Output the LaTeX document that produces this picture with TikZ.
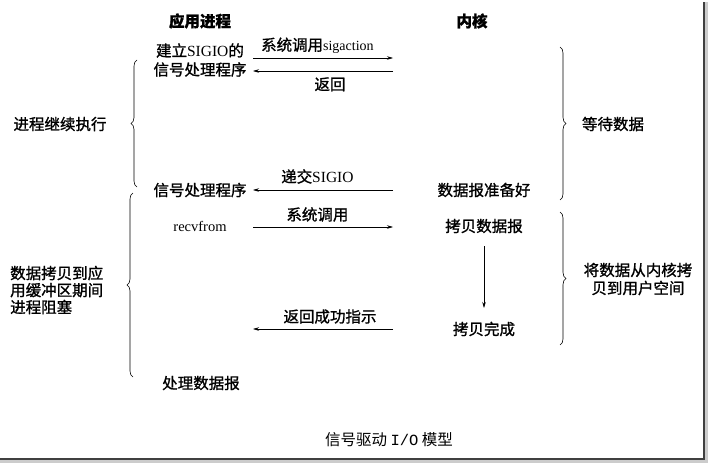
\documentclass[tikz,border=0pt]{standalone}
\usepackage{fontspec}
\setmainfont{Liberation Serif}
\setmonofont{Liberation Mono}
\newfontfamily\cjk[FakeBold=1.2]{Noto Sans CJK SC}
\newfontfamily\cjklight{Noto Sans CJK SC}
\usetikzlibrary{
    decorations.pathreplacing,
    arrows.meta,
    positioning
}

\begin{document}
\begin{tikzpicture}[x=1pt, y=-1pt,
    txt/.style={font=\cjk\fontsize{15.5}{19}\selectfont, inner sep=0pt},
    head/.style={font=\cjk\bfseries\fontsize{15.5}{19}\selectfont, inner sep=0pt},
    msg/.style={-{Stealth[length=6pt, width=3.5pt]}, line width=0.6pt},
    brc/.style={decorate, decoration={brace, amplitude=6pt}, line width=0.6pt}]
                        \useasboundingbox (0, 0) rectangle (708, 463);
                        % frame shadow
                        \fill[black!20] (705, 2) rectangle (708, 463);
                        \fill[black!20] (0, 460) rectangle (708, 463);
                        \draw[line width=1.8pt, black!75] (704, 2) -- (704, 459) -- (0, 459);
                        % column heads
                        \node[head] (app) at (200, 21) {应用进程};
                        \node[head] (kern) at (472, 21) {内核};
                        % application side
                        \node[txt, align=center] (setup) at (200, 60) {建立{\rmfamily SIGIO}的\\信号处理程序};
                        \node[txt] (handler) at (200, 190) {信号处理程序};
                        \node[txt, font=\rmfamily\fontsize{14.5}{17}\selectfont] (recv) at (200, 226) {recvfrom};
                        \node[txt] (proc) at (201, 383) {处理数据报};
                        % kernel side
                        \node[txt] (ready) at (484, 190) {数据报准备好};
                        \node[txt] (copy) at (484, 226) {拷贝数据报};
                        \node[txt] (done) at (484, 329) {拷贝完成};
                        % message ends
                        \coordinate (a1) at (253, 58);  \coordinate (k1) at (393, 58);
                        \coordinate (a2) at (253, 71);  \coordinate (k2) at (393, 71);
                        \coordinate (a3) at (253, 190); \coordinate (k3) at (393, 190);
                        \coordinate (a4) at (253, 227); \coordinate (k4) at (393, 227);
                        \coordinate (a5) at (253, 329); \coordinate (k5) at (393, 329);
                        \draw[msg] (a1) -- node[txt, pos=0.46, above=4pt] {系统调用{\rmfamily\fontsize{14}{15}\selectfont sigaction}} (k1);
                        \draw[msg] (k2) -- node[txt, pos=0.45, below=6pt] {返回} (a2);
                        \draw[msg] (k3) -- node[txt, pos=0.54, above=6pt] {递交{\rmfamily SIGIO}} (a3);
                        \draw[msg] (a4) -- node[txt, pos=0.46, above=5pt] {系统调用} (k4);
                        \draw[msg] (k5) -- node[txt, pos=0.45, above=5pt] {返回成功指示} (a5);
                        \draw[msg] (copy.south) ++(0, 13) coordinate (v1) (v1) -- (484, 308) coordinate (v2);
                        % braces
                        \coordinate (lb1s) at (137, 187); \coordinate (lb1e) at (137, 60);
                        \coordinate (lb2s) at (133, 377); \coordinate (lb2e) at (133, 193);
                        \coordinate (rb1s) at (560, 47);  \coordinate (rb1e) at (560, 200);
                        \coordinate (rb2s) at (560, 212); \coordinate (rb2e) at (560, 345);
                        \draw[brc] (lb1s) -- (lb1e);
                        \draw[brc] (lb2s) -- (lb2e);
                        \draw[brc] (rb1s) -- (rb1e);
                        \draw[brc] (rb2s) -- (rb2e);
                        \node[txt] (cont) at (60, 124) {进程继续执行};
                        \node[txt, align=left, anchor=west, font=\cjk\fontsize{15.5}{17}\selectfont] (block) at (10, 290) {数据拷贝到应\\用缓冲区期间\\进程阻塞};
                        \node[txt] (wait) at (613, 124) {等待数据};
                        \node[txt, align=center, font=\cjk\fontsize{15.5}{18}\selectfont] (move) at (638, 279) {将数据从内核拷\\贝到用户空间};
                        % caption
                        \node[txt, font=\cjklight\fontsize{15.5}{17}\selectfont] (cap) at (389, 440) {信号驱动 {\ttfamily I/O} 模型};
                    \end{tikzpicture}
\end{document}
